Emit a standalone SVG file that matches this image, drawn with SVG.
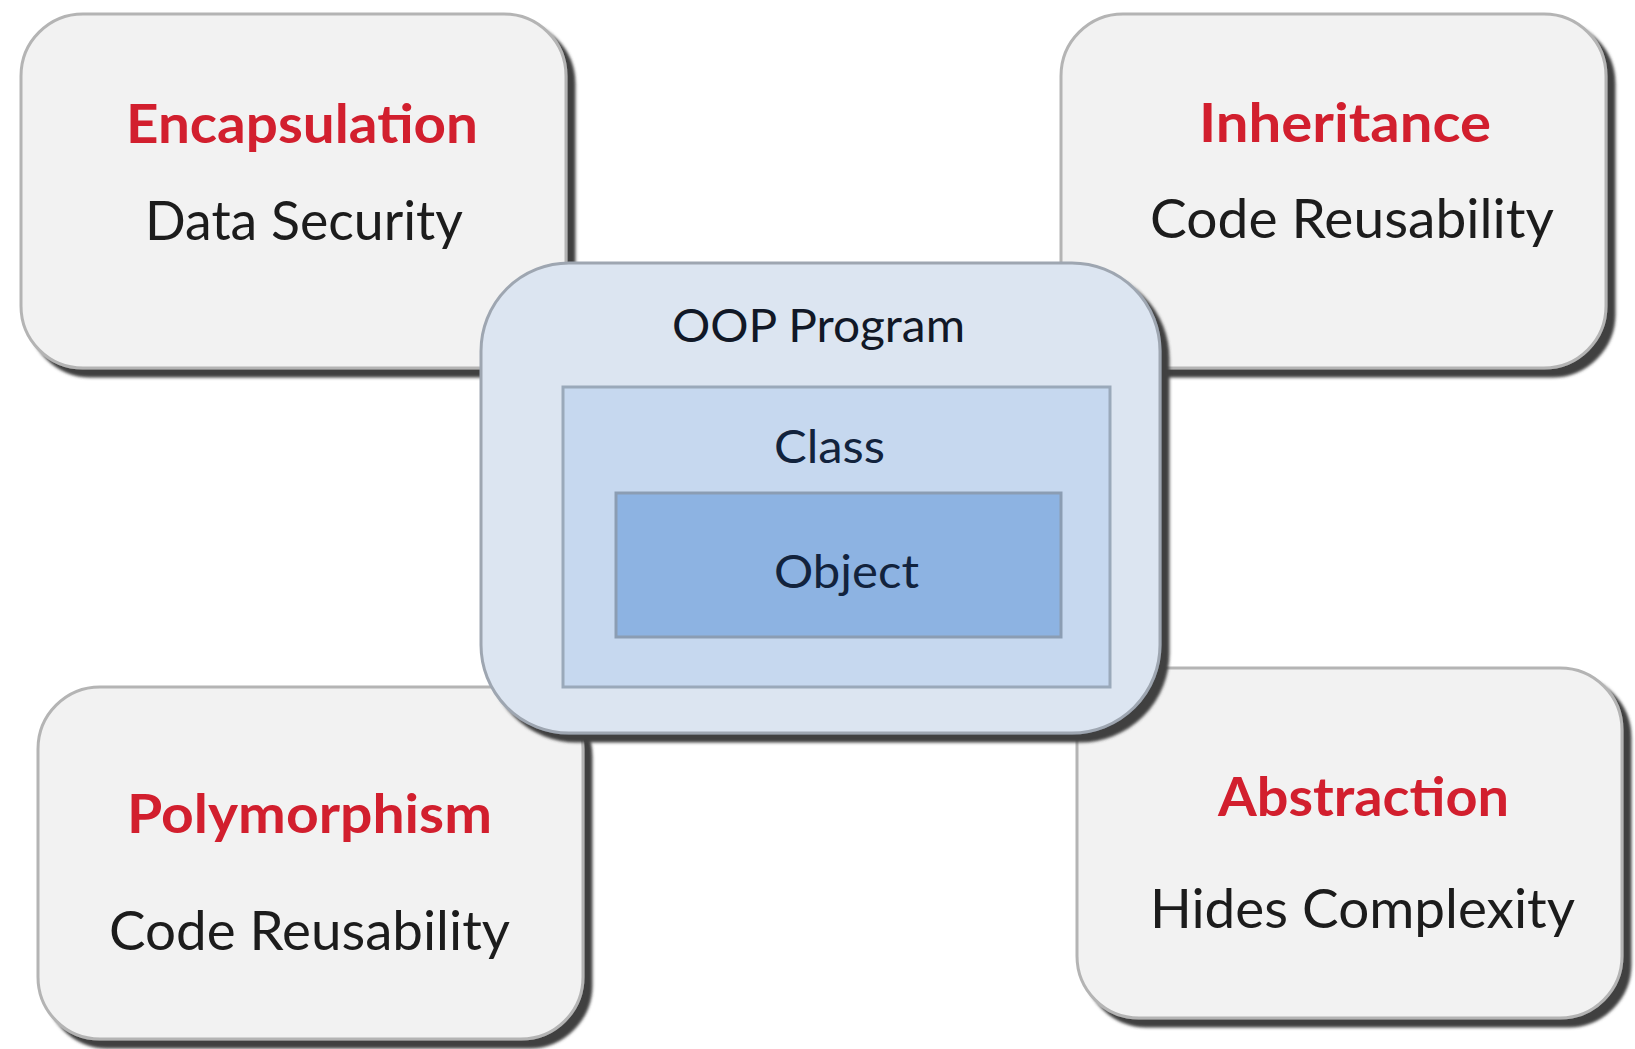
<svg xmlns="http://www.w3.org/2000/svg" width="1635" height="1049" viewBox="0 0 1635 1049">
  <defs>
    <filter id="shadow" x="-5%" y="-5%" width="115%" height="115%">
      <feOffset in="SourceAlpha" dx="8" dy="8" result="off"/>
      <feGaussianBlur in="off" stdDeviation="1.8" result="blur"/>
      <feFlood flood-color="#404040" flood-opacity="1"/>
      <feComposite in2="blur" operator="in" result="sh"/>
      <feMerge>
        <feMergeNode in="sh"/>
        <feMergeNode in="SourceGraphic"/>
      </feMerge>
    </filter>
  </defs>
  <style>
    .card { fill: #f2f2f2; stroke: #b4b4b4; stroke-width: 3; }
    .title { font-family: Lato, "Open Sans", "Liberation Sans", sans-serif; font-weight: bold; font-size: 54px; fill: #d21f2e; }
    .sub { font-family: Lato, "Open Sans", "Liberation Sans", sans-serif; font-size: 54px; fill: #1c1c1c; }
    .center { font-family: Lato, "Open Sans", "Liberation Sans", sans-serif; font-size: 46px; fill: #111827; }
    .inner { fill: #12233d; }
  </style>
  <rect x="0" y="0" width="1635" height="1049" fill="#ffffff"/>

  <g id="encapsulation">
    <rect class="card" x="21" y="14" width="545" height="354" rx="62" filter="url(#shadow)"/>
    <text class="title" x="126" y="143" textLength="352" lengthAdjust="spacingAndGlyphs">Encapsulation</text>
    <text class="sub" x="145" y="240" textLength="318" lengthAdjust="spacingAndGlyphs">Data Security</text>
  </g>

  <g id="inheritance">
    <rect class="card" x="1061" y="14" width="545" height="354" rx="62" filter="url(#shadow)"/>
    <text class="title" x="1199" y="142" textLength="292" lengthAdjust="spacingAndGlyphs">Inheritance</text>
    <text class="sub" x="1150" y="238" textLength="404" lengthAdjust="spacingAndGlyphs">Code Reusability</text>
  </g>

  <g id="polymorphism">
    <rect class="card" x="38" y="687" width="545" height="352" rx="62" filter="url(#shadow)"/>
    <text class="title" x="127" y="833" textLength="365" lengthAdjust="spacingAndGlyphs">Polymorphism</text>
    <text class="sub" x="109" y="950" textLength="401" lengthAdjust="spacingAndGlyphs">Code Reusability</text>
  </g>

  <g id="abstraction">
    <rect class="card" x="1077" y="668" width="545" height="350" rx="62" filter="url(#shadow)"/>
    <text class="title" x="1218" y="816" textLength="291" lengthAdjust="spacingAndGlyphs">Abstraction</text>
    <text class="sub" x="1150" y="928" textLength="425" lengthAdjust="spacingAndGlyphs">Hides Complexity</text>
  </g>

  <g id="oop-program">
    <rect x="481" y="263" width="679" height="470" rx="88" fill="#dce5f1" stroke="#9ea6b1" stroke-width="3" filter="url(#shadow)"/>
    <text class="center" x="672" y="342" textLength="293" lengthAdjust="spacingAndGlyphs">OOP Program</text>
  </g>

  <g id="class">
    <rect x="563" y="387" width="547" height="300" fill="#c6d8ef" stroke="#9aa9ba" stroke-width="3"/>
    <text class="center inner" x="774" y="463" textLength="111" lengthAdjust="spacingAndGlyphs">Class</text>
  </g>

  <g id="object">
    <rect x="616" y="493" width="445" height="144" fill="#8db3e2" stroke="#8b9db3" stroke-width="3"/>
    <text class="center inner" x="774" y="588" textLength="145" lengthAdjust="spacingAndGlyphs">Object</text>
  </g>

  <g id="connectors"/>
</svg>
